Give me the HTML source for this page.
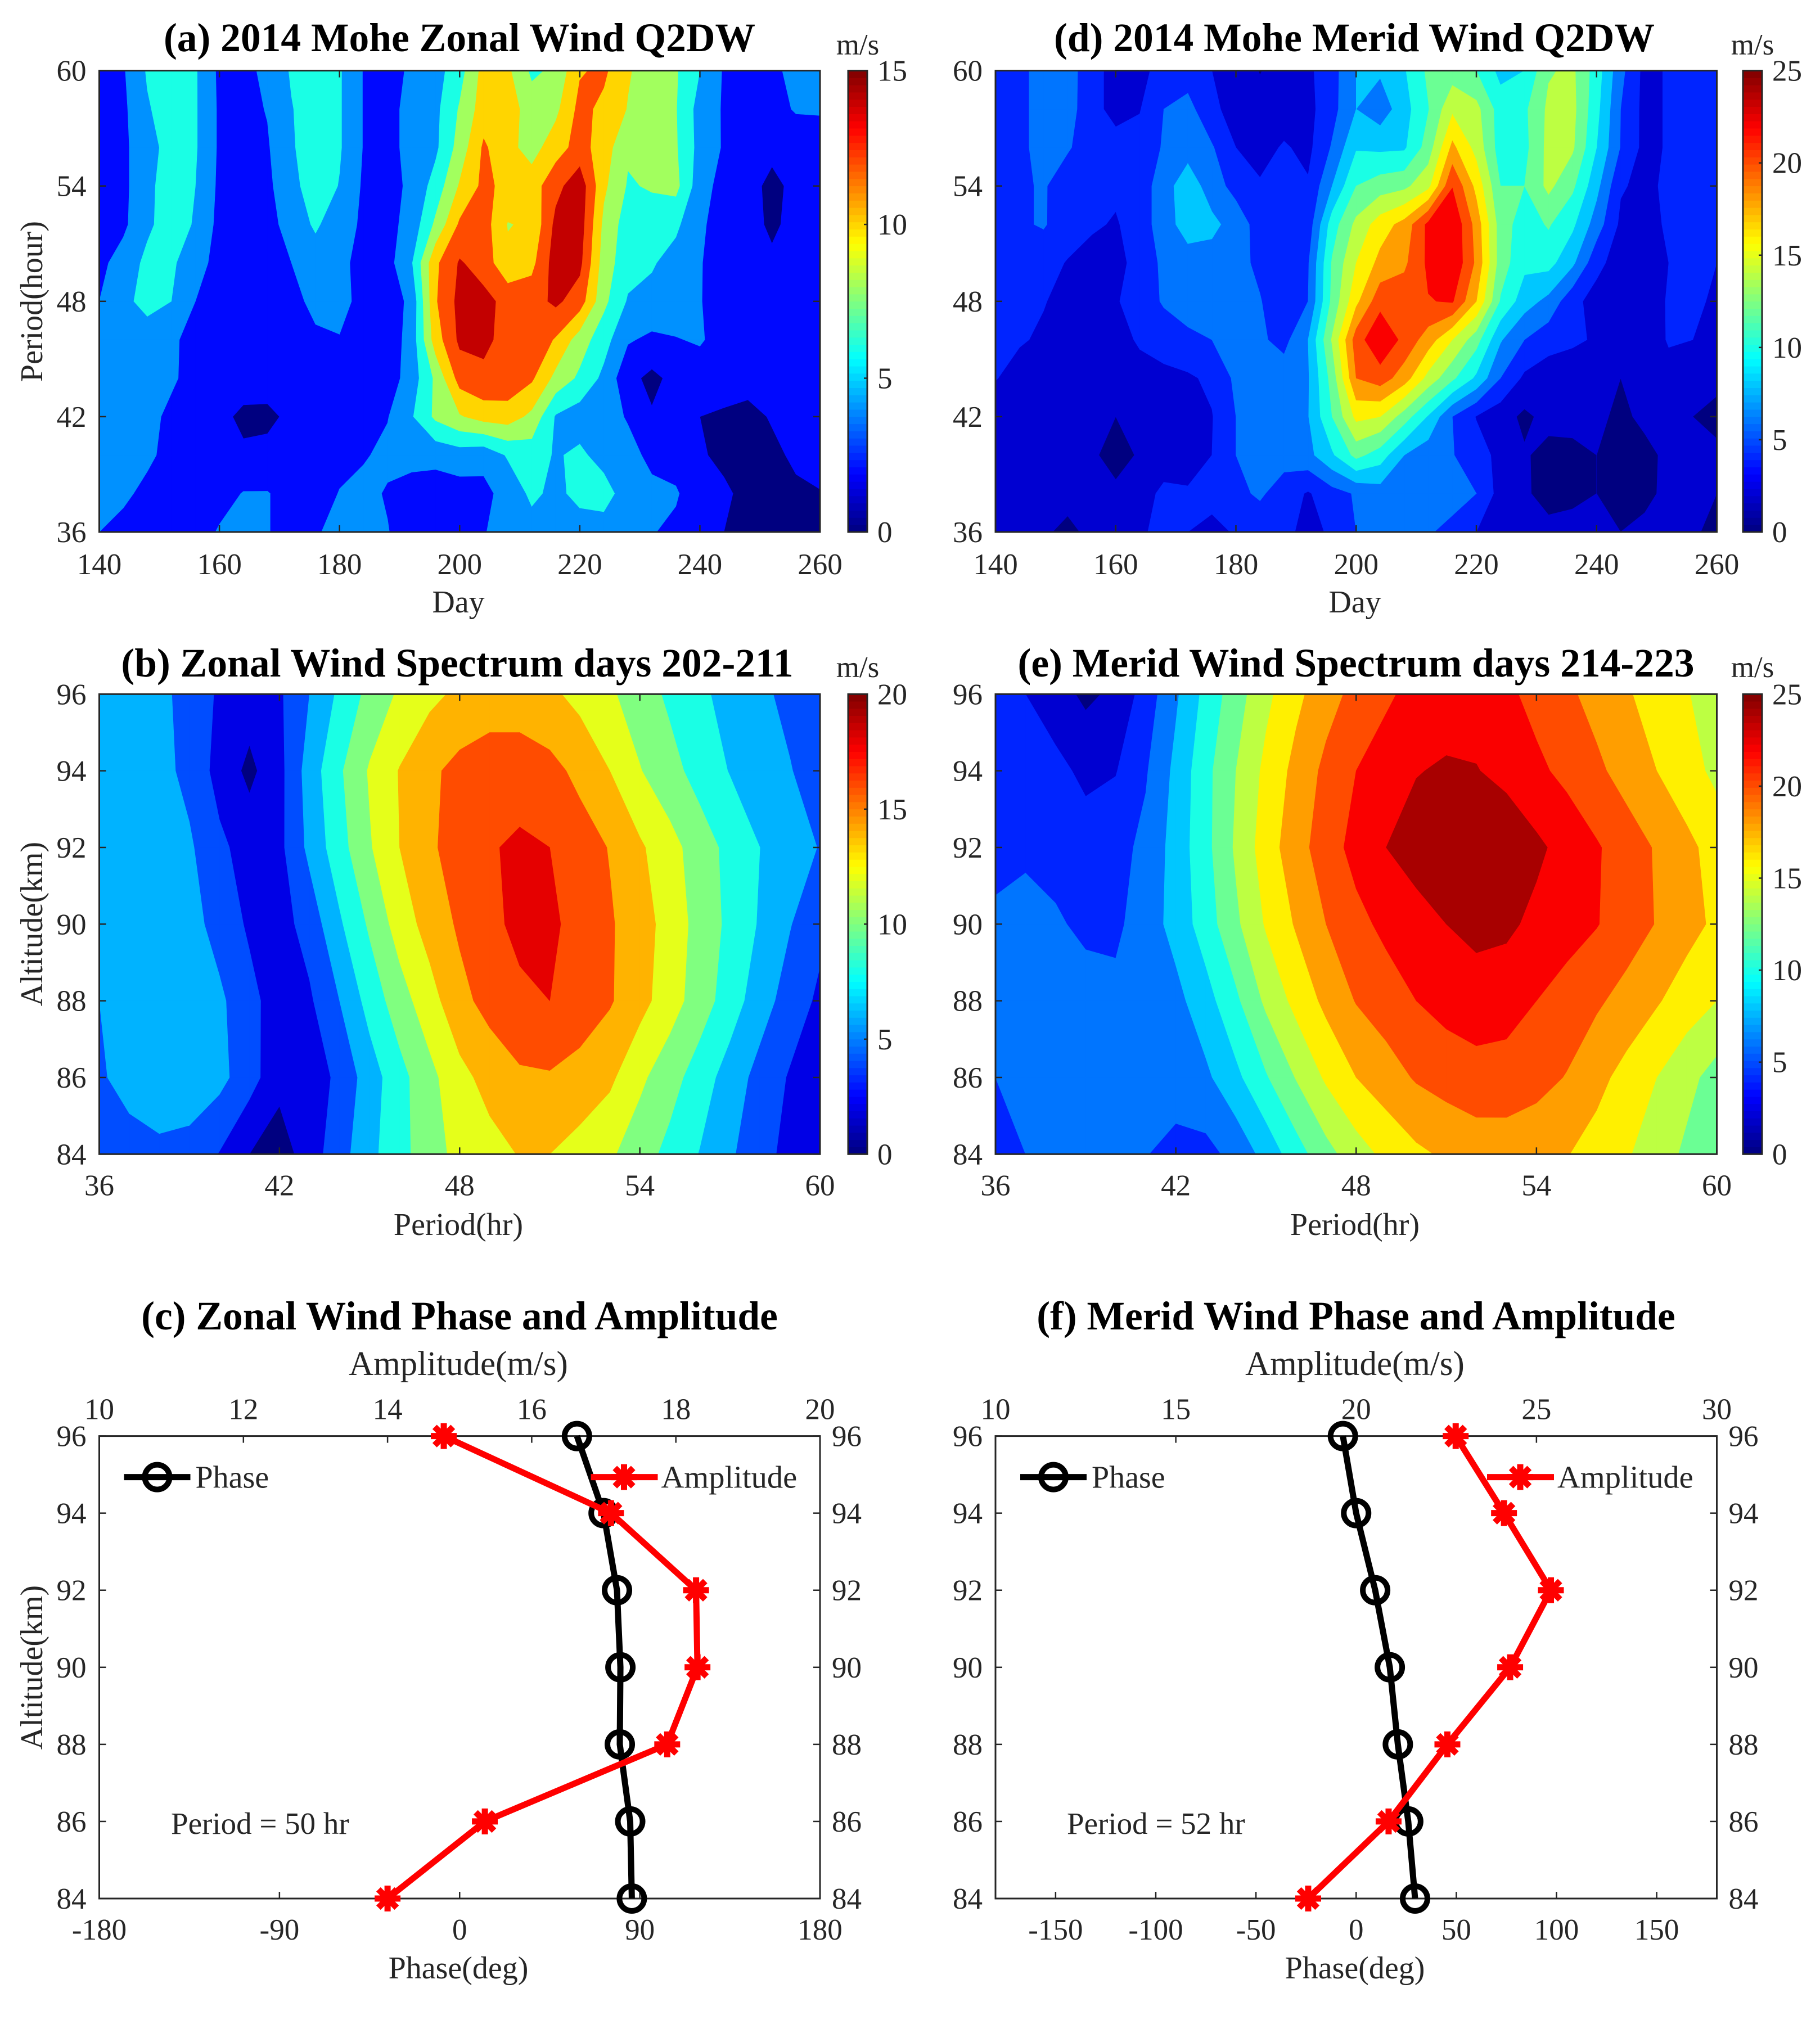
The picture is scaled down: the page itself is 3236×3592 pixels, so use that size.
<!DOCTYPE html>
<html>
<head>
<meta charset="utf-8">
<title>Mohe Q2DW wind analysis</title>
<style>
html,body{margin:0;padding:0;background:#fff;}
svg{display:block;font-family:"Liberation Serif","Times New Roman",serif;}
.title{font-weight:bold;font-size:71.5px;fill:#000;text-anchor:middle;}
.lab{font-size:53px;fill:#262626;}
.axt{font-size:56px;fill:#262626;text-anchor:middle;}
.amp{font-size:61px;fill:#262626;text-anchor:middle;}
.mid{text-anchor:middle;}
</style>
</head>
<body>
<svg id="figure" xmlns="http://www.w3.org/2000/svg" width="3236" height="3592" viewBox="0 0 3236 3592">
<rect x="0" y="0" width="3236" height="3592" fill="#fff"/>
<g id="plots"></g>
<text class="title" x="817" y="91">(a) 2014 Mohe Zonal Wind Q2DW</text>
<text class="title" x="2408" y="91">(d) 2014 Mohe Merid Wind Q2DW</text>
<text class="title" x="813" y="1203">(b) Zonal Wind Spectrum days 202-211</text>
<text class="title" x="2411" y="1203">(e) Merid Wind Spectrum days 214-223</text>
<text class="title" x="817" y="2364">(c) Zonal Wind Phase and Amplitude</text>
<text class="title" x="2411" y="2364">(f) Merid Wind Phase and Amplitude</text>
<text class="lab mid" x="1525" y="97">m/s</text>
<text class="lab mid" x="3116" y="97">m/s</text>
<text class="lab mid" x="1525" y="1204">m/s</text>
<text class="lab mid" x="3116" y="1204">m/s</text>
<text class="axt" x="815" y="1089">Day</text>
<text class="axt" x="2409" y="1089">Day</text>
<text class="axt" x="815" y="2196">Period(hr)</text>
<text class="axt" x="2409" y="2196">Period(hr)</text>
<text class="axt" x="815" y="3518">Phase(deg)</text>
<text class="axt" x="2409" y="3518">Phase(deg)</text>
<text class="amp" x="815" y="2445">Amplitude(m/s)</text>
<text class="amp" x="2409" y="2445">Amplitude(m/s)</text>
<text class="axt" transform="translate(75,536) rotate(-90)">Period(hour)</text>
<text class="axt" transform="translate(75,1643) rotate(-90)">Altitude(km)</text>
<text class="axt" transform="translate(75,2965) rotate(-90)">Altitude(km)</text>
<text class="lab" x="304" y="3261" style="font-size:55px">Period = 50 hr</text>
<text class="lab" x="1897" y="3261" style="font-size:55px">Period = 52 hr</text>
</svg>
<script>
// ---------- categories ----------
const mapDays=[140,144,148,152,156,160,164,168,172,176,180,184,188,192,196,200,204,208,212,216,220,224,228,232,236,240,244,248,252,256,260];
const mapPeriods=[60,58,56,54,52,50,48,46,44,42,40,38,36];
const specPeriods=[36,37,38,39,40,41,42,43,44,45,46,47,48,49,50,51,52,53,54,55,56,57,58,59,60];
const specAltitudes=[96,94,92,90,88,86,84];
const lineAltitudes=[96,94,92,90,88,86,84];

// ---------- tick labels ----------
const dayTicks=[140,160,180,200,220,240,260];
const periodTicks=[36,42,48,54,60];
const altitudeTicks=[84,86,88,90,92,94,96];
const phaseTicksC=[-180,-90,0,90,180];
const phaseTicksF=[-150,-100,-50,0,50,100,150];
const ampTicksC=[10,12,14,16,18,20];
const ampTicksF=[10,15,20,25,30];
const cbarTicksA=[0,5,10,15];
const cbarTicksB=[0,5,10,15,20];
const cbarTicksD=[0,5,10,15,20,25];

// ---------- contour levels ----------
const levelsA=[0,2,4,6,8,10,12,14];
const levelsB=[0,2,4,6,8,10,12,14,16,18];
const levelsD=[0,2,4,6,8,10,12,14,16,18,20,22,24];

// ---------- panel (a) zonal wind amplitude, rows by period, columns by day ----------
const zonalMap=[
[3,3.8,6.2,7,6.2,3.6,3.4,4.5,6.2,7,6.2,3.9,3.3,4.3,5.2,7.2,10.7,10.4,7.6,8.4,11.8,12.4,10.2,9,8.2,6,3.8,3.4,3.7,4.4,4.6],
[3.2,3.6,5.8,7,6.2,3.7,3.4,4.1,5.9,7,6.2,3.9,3.3,4.7,5.5,8.2,11,11,9,9.5,12.6,11.5,9.9,9,8.1,5.2,3.8,3.4,3.6,4.1,4.1],
[3.2,3.6,5.2,6.8,6.2,3.7,3.4,3.8,5.8,7,6.2,3.9,3.3,4.7,5.6,8.8,12.3,10.6,9.2,11.1,12.8,11,8.3,8.5,8.2,5.3,3.8,3.3,2.6,3.3,3.5],
[3.1,3.5,5.5,7,6,3.6,3.2,3.6,5.3,7.2,5.9,3.7,3.3,4.4,6.8,10.2,12.5,11.4,11,13.4,15.2,10.4,7.8,8.2,8.6,4.8,3.3,2.8,1.4,2.6,3],
[3,3.6,5.6,7,5.8,3.4,3,3.3,4.8,6.3,4.8,3.7,3.4,4.7,8.4,12.3,12.9,9.9,10.3,14.5,15,9.5,7,7,6.4,4.3,3.2,2.8,1.6,2.7,3],
[3.5,4.8,6.5,6.3,4.9,3.2,2.9,3,4,5,4.3,3.6,3.3,5.8,11.6,14.2,13.1,10.4,11.4,15,14.5,9,6.8,6.2,5.2,4.1,3.2,3,2.4,3,3.9],
[4,5.3,6.9,6,4,3.2,2.9,2.9,3.3,4.6,4.6,3.4,2.9,4.5,11.8,14.6,14.6,13.4,13.2,14.4,13,8.5,5.8,5.4,5.1,4.1,3,3,3,3.1,3.3],
[4.8,4.8,4.6,4.3,3.4,3,2.8,2.8,2.9,3.6,3.9,3.3,2.8,4.8,11,14.4,14.4,13.4,13.4,11.8,9,6.8,4.2,3.6,3.9,4.2,3.2,2.9,2.9,3,3.1],
[4.8,4.9,4.8,4.2,3.5,3.1,2.9,2.8,2.9,3.5,3.4,3,3,4.9,8.4,12.8,13.6,13.4,12.3,9.4,7.6,5.5,2.6,1.5,2.6,3,3,2.9,2.6,2.8,3],
[4.5,4.5,4.4,3.7,2.9,2.5,1.6,1.6,2.4,2.8,3,3.2,3.9,5.8,8.4,9.8,10.8,11,9.5,5.8,5,4.5,3.9,2.2,2.4,2,1.7,1.3,2.2,2.7,2.9],
[4.4,4.4,4.3,3.5,2.8,2.3,2.3,2.5,2.8,3,3.3,3.8,4.5,4.8,4.6,5,4.6,6.2,6.9,5.8,6.4,5.2,4.4,3.7,3.2,2.2,1.6,1.4,1.5,2.4,2.8],
[4.4,4.3,3.6,2.9,2.7,3.2,4.1,4.1,3.2,2.8,4.1,4.6,3.8,3,3,3.2,3.5,4.7,6.4,5.5,6.6,6.9,4.9,4.3,4.2,2.8,2.3,1.5,1.4,1.6,1.9],
[4,3.5,3,2.7,3,4.2,4.9,4.1,3.2,3.7,4.9,5,4.1,2.8,2.9,3,3.9,4.7,5.2,5,5,5,4.8,4.1,3.6,2.6,2,1.5,1.7,1.9,1.6]
];

// ---------- panel (d) meridional wind amplitude ----------
const meridMap=[
[4.6,5.6,6.6,7,4.6,3.4,3.7,4.4,5,4,3.3,1.9,3,3.6,5.2,8,8.3,9.8,12.4,13,12,9.4,10,13.8,14.4,11,6.6,3.4,4.2,4.6,4.6],
[4.6,5.6,6.6,6.9,4.6,3.4,3.9,6,6.7,4.4,3.3,2.8,3,3.4,5.3,8,6.8,9.2,11.9,15.6,14.6,11,11.6,14.4,14.6,10.6,6,3.4,4.2,4.4,4.5],
[4.7,5.6,6.6,6.2,5,4.7,4.7,6.2,7,6.2,4,3.3,4.2,3.5,6.2,9.8,9.6,9.7,12.9,18.5,15.3,11,11.4,14.6,14.3,10,5.9,3.4,4.2,4.4,4.4],
[4.8,5.7,6.2,4.9,4.5,4.4,5,7,9.4,6.8,5.4,4.2,4.4,4.2,8,12,13,13.5,15.4,21.9,17.4,12,12,14.5,12.4,8.6,4.2,3.5,4.4,4.8,4.5],
[4.8,5.7,6.2,4.8,4.3,3.8,5,7,9,8.6,7,5.2,4.5,4.8,11,14.5,17,18.7,22.5,23.8,19.2,13,11,12.2,10.4,7,3.6,3,4.4,5,4.3],
[4.5,4.8,4.6,3.9,3.2,3.3,4.8,6.4,7,7,6.6,5.6,4.8,5.8,12.2,16,18.6,19.6,22.4,23.8,19.6,13,10.5,10.7,8.4,4.6,3,2.8,4,4.7,4],
[4.2,4.3,4.1,3.4,3,3.8,5,6.2,6.8,7,6.9,6.1,4.8,6,12.5,17.5,21.3,21.2,21.9,22.2,18,11.8,8.9,7.4,4.6,3.2,2.8,2.8,4.2,4.6,3.5],
[4.4,4.2,3.7,3.2,3,3.4,4.2,5,5.6,6,6.5,6.3,5.4,8,14.2,21,23.8,21.4,19,16,12.8,8.2,6,4.8,4.3,3.8,2.8,2.6,4.2,4,3.2],
[4.1,3.2,3,2.8,2.7,2.9,3.4,3.4,3.7,4.4,6.4,7,7,7.8,12.8,20,21,19,15.3,12.4,9.6,6,3.6,2.9,2.9,2.6,2,2.6,3.2,3,2.7],
[2.7,2.7,2.7,2.6,2.4,2,2.5,3,3.3,3.9,6,7,7.2,7.9,12,16.5,16,13,9.8,6,3.9,2.8,1.6,2.6,2.5,2.4,1.6,2.4,2.7,2,1.2],
[2.7,2.7,2.6,2.5,2.3,1.3,2.2,2.8,3.2,4,6,6.6,6.8,7.4,9.7,12.6,11,8,6.8,6.1,4.9,3.4,2.2,1.4,1.6,2,1.2,1.5,2.4,2.8,2.6],
[2.7,2.6,2.5,2.7,2.6,2.4,3,4.5,4.2,4.7,5.5,6.3,5,3.8,5.2,6.2,7,7,7,6.8,6,3.2,2.2,1.5,1.8,2,1.4,1.6,2.4,2.4,2],
[2.8,2.7,2.3,1.5,2.5,3,3.7,4.6,4,3.4,4.2,4.7,4.5,3.4,4.3,6,6.6,6.6,6.2,5.4,4,3,2.7,2.4,2.3,2.4,2,2.4,2.5,2.2,1.6]
];

// ---------- panel (b) zonal spectrum, rows by altitude, columns by period ----------
const zonalSpec=[
[7,7,6.5,5.3,3.7,3,3.7,6,8.4,10.6,12.3,13.5,14.4,15,15.1,14.4,13.4,12.3,11,9.6,8.4,7.3,6.4,5.5,5],
[7,7,6.7,5.4,3.3,1.5,3.4,6.9,9.7,12.2,14.1,15.6,16.6,17,16.9,16.6,15.5,14,12.1,10.7,9.2,7.9,7,6.1,5],
[7.2,7.2,7,6.3,4.4,3.2,3.5,6.5,9.2,11.8,14,15.7,16.8,17.8,18.4,18,16.9,15.9,14.3,12.7,11,9.4,8,6.9,5.9],
[7.2,7.3,7.2,6.8,5.2,3.7,3.2,4.8,7.7,10.3,12.9,14.8,16.3,17.4,18.6,18.4,17.3,16.2,15,13.1,11.3,9.5,7.8,6.1,4.5],
[6,7,7.2,7,6.4,4.6,3,3.7,6,8.75,11.1,13.2,15.4,16.7,17.5,18,17.1,16.2,14.7,12.9,11,9,6.9,5.1,3.6],
[5.7,6.8,7.1,7,6.6,4.8,2.6,2.8,4.5,7,9.3,11.4,13.4,14.7,15.7,15.8,15.3,14.4,12.4,10.8,9,7.1,5.3,3.8,2.8],
[5,5.1,5.6,5.4,3.9,2,1,3,5.2,7.4,9.4,11,12.7,13.3,14.1,14,13.2,12.3,10.9,9.4,7.9,6.3,4.7,3.4,2.8]
];

// ---------- panel (e) meridional spectrum ----------
const meridSpec=[
[5,4,2.8,1.6,2.4,4.9,7.7,10.6,13.1,15.5,17.5,19.2,20.6,21.7,22.6,23,23,22.4,21.4,20.4,19.3,18.2,17.2,16.1,15.2],
[5,5,4.6,3.5,3.9,5.8,8.5,11.4,14,16.5,18.6,20.5,22,22.9,23.9,24.25,24.1,23.3,22.4,21.5,20.4,19.2,18,16.8,15.5],
[5,5.75,5.2,5,5.3,6.5,8.8,11.4,14.3,17,19.2,21,22.7,24,24.9,25.6,26,25.7,24.4,23.3,22.2,21,19.8,18.5,17.2],
[6.6,6.5,6.3,5.5,5.6,7,8.7,11,13.6,16.2,18.2,20,21.4,22.5,23.2,24,24.6,24.4,23.5,22.8,22.1,21,19.9,18.7,17.6],
[7,7.1,7.1,7,6.5,6.6,7.4,9.2,11.6,14.4,16.6,18.5,20.1,21,22,22.7,23,22.8,22,21.2,20.3,19.3,18.2,17,16],
[6,6.8,7,7,7,7,7.2,7.6,9.5,11.8,14.1,16.3,18,19.1,20.2,20.8,21.3,21.2,20.7,19.9,18.6,17.3,16,14.6,13.2],
[5,6,6.5,6.7,6.6,6.1,5.2,5.4,6.6,8.7,11.1,13.3,15.1,16.5,17.6,18.3,18.8,18.9,18.6,18.1,17.2,16.2,15,13.6,12.2]
];

// ---------- panels (c) and (f) profile series ----------
const zonalPhase=[58.6,71.9,78.6,80.3,80,85.2,86];
const zonalAmplitude=[14.78,17.1,18.28,18.3,17.88,15.35,14];
const meridPhase=[-6.6,0,9.5,16.8,20.8,26,29.4];
const meridAmplitude=[22.76,24.1,25.4,24.27,22.53,20.9,18.67];

const NS='http://www.w3.org/2000/svg';
const root=document.getElementById('plots');
function mk(tag,parent){const el=document.createElementNS(NS,tag);parent.appendChild(el);return el;}
function scale(d0,d1,r0,r1){return v=>r0+(v-d0)*(r1-r0)/(d1-d0);}
function clamp(v){return Math.max(0,Math.min(1,v));}
function jet(t){
  const r=clamp(1.5-Math.abs(4*t-3)),g=clamp(1.5-Math.abs(4*t-2)),b=clamp(1.5-Math.abs(4*t-1));
  return 'rgb('+Math.round(r*255)+','+Math.round(g*255)+','+Math.round(b*255)+')';
}
function label(parent,x,y,str,anchor,name,size){
  const t=mk('text',parent);
  t.setAttribute('x',x);
  t.setAttribute('y',y);
  t.setAttribute('class','lab');
  t.setAttribute('text-anchor',anchor);
  if(size)t.style.fontSize=size+'px';
  t.textContent=str;
  
  
  return t;
}
function tick(parent,x1,y1,x2,y2,name){
  const l=mk('line',parent);
  l.setAttribute('x1',x1);l.setAttribute('y1',y1);l.setAttribute('x2',x2);l.setAttribute('y2',y2);
  l.setAttribute('stroke','#262626');l.setAttribute('stroke-width',2.5);
  
  
}
function frame(parent,box,name){
  const r=mk('rect',parent);
  r.setAttribute('x',box.x0);r.setAttribute('y',box.y0);
  r.setAttribute('width',box.x1-box.x0);r.setAttribute('height',box.y1-box.y0);
  r.setAttribute('fill','none');r.setAttribute('stroke','#262626');r.setAttribute('stroke-width',3);
  
  
}
// polygon of a grid cell where value >= level, as a path fragment
function cellPath(pts,vals,L){
  let out=[];
  for(let i=0;i<4;i++){
    const j=(i+1)%4,a=vals[i],b=vals[j];
    if(a>=L)out.push(pts[i]);
    if((a>=L)!==(b>=L)){
      const f=(L-a)/(b-a);
      out.push([pts[i][0]+f*(pts[j][0]-pts[i][0]),pts[i][1]+f*(pts[j][1]-pts[i][1])]);
    }
  }
  if(out.length<3)return '';
  return 'M'+out.map(p=>p[0].toFixed(1)+' '+p[1].toFixed(1)).join('L')+'Z';
}
function contourPanel(id,box,xs,ys,grid,xd,yd,levels,cmax,xTicks,yTicks,xLabelGap){
  const g=mk('g',root);
  
  
  const X=scale(xd[0],xd[1],box.x0,box.x1),Y=scale(yd[0],yd[1],box.y1,box.y0);
  const bg=mk('rect',g);
  bg.setAttribute('x',box.x0);bg.setAttribute('y',box.y0);
  bg.setAttribute('width',box.x1-box.x0);bg.setAttribute('height',box.y1-box.y0);
  bg.setAttribute('fill',jet(levels[0]/cmax));
  
  
  for(let k=1;k<levels.length;k++){
    const L=levels[k];
    let d='';
    for(let r=0;r<ys.length-1;r++){
      for(let c=0;c<xs.length-1;c++){
        const pts=[[X(xs[c]),Y(ys[r])],[X(xs[c+1]),Y(ys[r])],[X(xs[c+1]),Y(ys[r+1])],[X(xs[c]),Y(ys[r+1])]];
        const vals=[grid[r][c],grid[r][c+1],grid[r+1][c+1],grid[r+1][c]];
        d+=cellPath(pts,vals,L);
      }
    }
    const p=mk('path',g);
    p.setAttribute('d',d);
    p.setAttribute('fill',jet(L/cmax));
    p.setAttribute('stroke',jet(L/cmax));
    p.setAttribute('stroke-width',0.6);
    
    
  }
  frame(g,box,'plot-frame-'+id);
  xTicks.forEach(v=>{
    tick(g,X(v),box.y1,X(v),box.y1-12,'x-tick-'+v);
    tick(g,X(v),box.y0,X(v),box.y0+12,'x-tick-top-'+v);
    label(g,X(v),box.y1+xLabelGap,String(v),'middle','x-tick-label-'+v);
  });
  yTicks.forEach(v=>{
    tick(g,box.x0,Y(v),box.x0+12,Y(v),'y-tick-'+v);
    tick(g,box.x1,Y(v),box.x1-12,Y(v),'y-tick-right-'+v);
    label(g,box.x0-23,Y(v)+18,String(v),'end','y-tick-label-'+v);
  });
}
function colorbar(id,x0,x1,y0,y1,cmax,ticks){
  const g=mk('g',root);
  
  
  const Y=scale(0,cmax,y1,y0),n=64;
  for(let i=0;i<n;i++){
    const r=mk('rect',g);
    const v0=cmax*i/n,v1=cmax*(i+1)/n;
    r.setAttribute('x',x0);r.setAttribute('y',Y(v1)-0.4);
    r.setAttribute('width',x1-x0);r.setAttribute('height',Y(v0)-Y(v1)+0.8);
    r.setAttribute('fill',jet((i+0.5)/n));
    
    
  }
  frame(g,{x0:x0,x1:x1,y0:y0,y1:y1},'colorbar-frame-'+id);
  ticks.forEach(v=>{
    tick(g,x1,Y(v),x1-6,Y(v),'colorbar-tick-'+v);
    label(g,x1+18,Y(v)+18,String(v),'start','colorbar-label-'+v);
  });
}
function star(parent,cx,cy,name){
  const g=mk('g',parent);
  
  
  const R=23;
  [0,45,90,135].forEach(a=>{
    const dx=R*Math.cos(a*Math.PI/180),dy=R*Math.sin(a*Math.PI/180);
    const l=mk('line',g);
    l.setAttribute('x1',cx-dx);l.setAttribute('y1',cy-dy);l.setAttribute('x2',cx+dx);l.setAttribute('y2',cy+dy);
    l.setAttribute('stroke','#ff0000');l.setAttribute('stroke-width',11);
  });
}
function ring(parent,cx,cy,name){
  const c=mk('circle',parent);
  c.setAttribute('cx',cx);c.setAttribute('cy',cy);c.setAttribute('r',22);
  c.setAttribute('fill','none');c.setAttribute('stroke','#000');c.setAttribute('stroke-width',10);
  
  
}
function polyline(parent,pts,color,name){
  const p=mk('polyline',parent);
  p.setAttribute('points',pts.map(q=>q[0].toFixed(1)+','+q[1].toFixed(1)).join(' '));
  p.setAttribute('fill','none');p.setAttribute('stroke',color);p.setAttribute('stroke-width',11);
  p.setAttribute('stroke-linejoin','round');
  
  
}
function profilePanel(id,box,phase,amp,ampDomain,phaseTicks,ampTicks){
  const g=mk('g',root);
  
  
  const XP=scale(-180,180,box.x0,box.x1),XA=scale(ampDomain[0],ampDomain[1],box.x0,box.x1),Y=scale(84,96,box.y1,box.y0);
  frame(g,box,'plot-frame-'+id);
  phaseTicks.forEach(v=>{
    tick(g,XP(v),box.y1,XP(v),box.y1-12,'phase-tick-'+v);
    label(g,XP(v),box.y1+73,String(v),'middle','phase-tick-label-'+v);
  });
  ampTicks.forEach(v=>{
    tick(g,XA(v),box.y0,XA(v),box.y0+12,'amplitude-tick-'+v);
    label(g,XA(v),box.y0-30,String(v),'middle','amplitude-tick-label-'+v);
  });
  altitudeTicks.forEach(v=>{
    tick(g,box.x0,Y(v),box.x0+12,Y(v),'altitude-tick-'+v);
    tick(g,box.x1,Y(v),box.x1-12,Y(v),'altitude-tick-right-'+v);
    label(g,box.x0-23,Y(v)+18,String(v),'end','altitude-tick-label-'+v);
    label(g,box.x1+21,Y(v)+18,String(v),'start','altitude-tick-label-right-'+v);
  });
  const pp=phase.map((v,i)=>[XP(v),Y(lineAltitudes[i])]);
  const ap=amp.map((v,i)=>[XA(v),Y(lineAltitudes[i])]);
  polyline(g,pp,'#000','phase-line-'+id);
  pp.forEach(q=>ring(g,q[0],q[1],'phase-point'));
  polyline(g,ap,'#ff0000','amplitude-line-'+id);
  ap.forEach(q=>star(g,q[0],q[1],'amplitude-point'));
  // legend
  const lx=box.x0,ly=box.y0+73;
  const leg=mk('g',g);
  
  
  polyline(leg,[[lx+44,ly],[lx+162,ly]],'#000','legend-phase-line');
  ring(leg,lx+103,ly,'legend-phase-marker');
  label(leg,lx+171,ly+19,'Phase','start','legend-phase-label',56);
  polyline(leg,[[lx+874,ly],[lx+993,ly]],'#ff0000','legend-amplitude-line');
  star(leg,lx+933,ly,'legend-amplitude-marker');
  label(leg,lx+999,ly+19,'Amplitude','start','legend-amplitude-label',56.5);
}

const LX0=176.5,LX1=1458,RX0=1770,RX1=3052.5;
contourPanel('a',{x0:LX0,x1:LX1,y0:125.6,y1:946},mapDays,mapPeriods,zonalMap,[140,260],[36,60],levelsA,15,dayTicks,periodTicks,75);
colorbar('a',1508,1542,125.6,946,15,cbarTicksA);
contourPanel('d',{x0:RX0,x1:RX1,y0:125.6,y1:946},mapDays,mapPeriods,meridMap,[140,260],[36,60],levelsD,25,dayTicks,periodTicks,75);
colorbar('d',3099,3133,125.6,946,25,cbarTicksD);
contourPanel('b',{x0:LX0,x1:LX1,y0:1234.3,y1:2052.3},specPeriods,specAltitudes,zonalSpec,[36,60],[84,96],levelsB,20,periodTicks,altitudeTicks,73);
colorbar('b',1508,1542,1234.3,2052.3,20,cbarTicksB);
contourPanel('e',{x0:RX0,x1:RX1,y0:1234.3,y1:2052.3},specPeriods,specAltitudes,meridSpec,[36,60],[84,96],levelsD,25,periodTicks,altitudeTicks,73);
colorbar('e',3099,3133,1234.3,2052.3,25,cbarTicksD);
profilePanel('c',{x0:LX0,x1:LX1,y0:2553.6,y1:3376},zonalPhase,zonalAmplitude,[10,20],phaseTicksC,ampTicksC);
profilePanel('f',{x0:RX0,x1:RX1,y0:2553.6,y1:3376},meridPhase,meridAmplitude,[10,30],phaseTicksF,ampTicksF);
</script>
</body>
</html>
